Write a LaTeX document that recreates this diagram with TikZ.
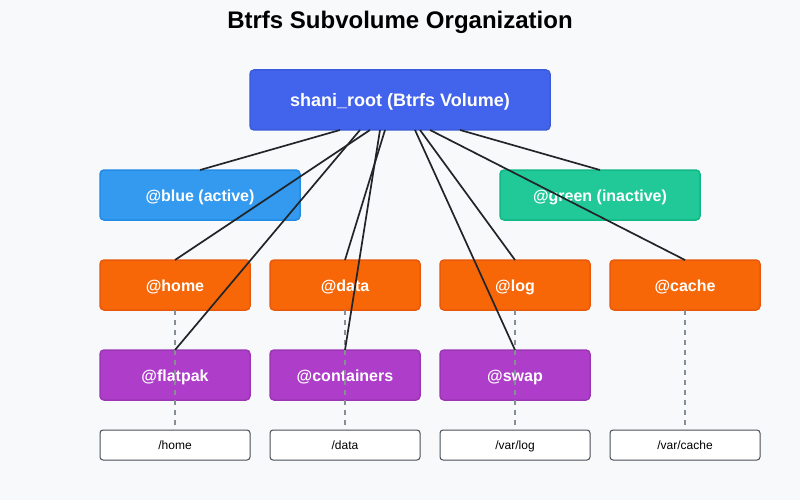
\documentclass[tikz,border=0pt]{standalone}
\usepackage{fontspec}
\setmainfont{Liberation Sans}
\usetikzlibrary{calc}
\definecolor{bgc}{HTML}{F8F9FA}
\definecolor{rootc}{HTML}{4263EB}
\definecolor{rootb}{HTML}{3B5BDB}
\definecolor{bluec}{HTML}{339AF0}
\definecolor{blueb}{HTML}{228BE6}
\definecolor{greenc}{HTML}{20C997}
\definecolor{greenb}{HTML}{12B886}
\definecolor{orangec}{HTML}{F76707}
\definecolor{orangeb}{HTML}{E8590C}
\definecolor{purplec}{HTML}{AE3EC9}
\definecolor{purpleb}{HTML}{9C36B5}
\definecolor{pathb}{HTML}{495057}
\definecolor{linec}{HTML}{212529}
\definecolor{dashc}{HTML}{868E96}
\tikzset{
  box/.style={rectangle, rounded corners=4pt, line width=1.5pt, inner sep=0pt, outer sep=0pt,
     text=white, font=\fontsize{16}{19}\selectfont\bfseries, text height=12pt, text depth=0pt},
  rootbox/.style={box, fill=rootc, draw=rootb, minimum width=300pt, minimum height=60pt,
     font=\fontsize{18}{21}\selectfont\bfseries, text height=13pt},
  bluebox/.style={box, fill=bluec, draw=blueb, minimum width=200pt, minimum height=50pt},
  greenbox/.style={box, fill=greenc, draw=greenb, minimum width=200pt, minimum height=50pt},
  orangebox/.style={box, fill=orangec, draw=orangeb, minimum width=150pt, minimum height=50pt},
  purplebox/.style={box, fill=purplec, draw=purpleb, minimum width=150pt, minimum height=50pt},
  pathbox/.style={rectangle, rounded corners=3pt, line width=1pt, draw=pathb, fill=white, inner sep=0pt, outer sep=0pt,
     minimum width=150pt, minimum height=30pt, font=\fontsize{12}{14}\selectfont, text height=9pt, text depth=0pt},
  conn/.style={draw=linec, line width=1.7pt},
  mount/.style={draw=dashc, line width=1.8pt, dash pattern=on 5pt off 5pt},
}
\begin{document}
\begin{tikzpicture}[x=1pt, y=-1pt]
\fill[bgc] (0,0) rectangle (800,500);
\useasboundingbox (0,0) rectangle (800,500);
\node[font=\fontsize{24}{28}\selectfont\bfseries] (title) at (400,22.5) {Btrfs Subvolume Organization};
\node[rootbox] (root) at (400,100) {shani\_root (Btrfs Volume)};
\node[bluebox] (blue) at (200,195) {@blue (active)};
\node[greenbox] (green) at (600,195) {@green (inactive)};
\node[orangebox] (home) at (175,285) {@home};
\node[orangebox] (data) at (345,285) {@data};
\node[orangebox] (log) at (515,285) {@log};
\node[orangebox] (cache) at (685,285) {@cache};
\node[purplebox] (flatpak) at (175,375) {@flatpak};
\node[purplebox] (containers) at (345,375) {@containers};
\node[purplebox] (swap) at (515,375) {@swap};
\node[pathbox] (phome) at (175,445) {/home};
\node[pathbox] (pdata) at (345,445) {/data};
\node[pathbox] (plog) at (515,445) {/var/log};
\node[pathbox] (pcache) at (685,445) {/var/cache};
\draw[mount] (home.south) -- (phome.north);
\draw[mount] (data.south) -- (pdata.north);
\draw[mount] (log.south) -- (plog.north);
\draw[mount] (cache.south) -- (pcache.north);
\draw[conn] ([xshift=90pt]root.south west) -- (blue.north);
\draw[conn] ([xshift=210pt]root.south west) -- (green.north);
\draw[conn] ([xshift=120pt]root.south west) -- (home.north);
\draw[conn] ([xshift=135pt]root.south west) -- (data.north);
\draw[conn] ([xshift=170pt]root.south west) -- (log.north);
\draw[conn] ([xshift=180pt]root.south west) -- (cache.north);
\draw[conn] ([xshift=110pt]root.south west) -- (flatpak.north);
\draw[conn] ([xshift=130pt]root.south west) -- (containers.north);
\draw[conn] ([xshift=165pt]root.south west) -- (swap.north);
\end{tikzpicture}
\end{document}
